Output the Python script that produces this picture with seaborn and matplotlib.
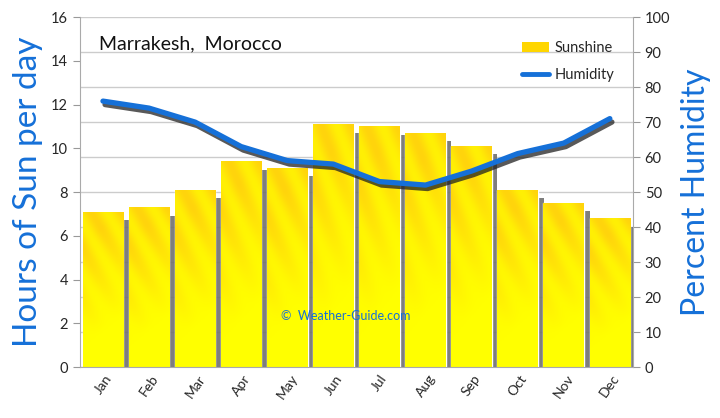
import matplotlib
matplotlib.use("Agg")
import matplotlib.pyplot as plt
import matplotlib.patheffects as pe
from matplotlib.patches import Patch
from matplotlib.lines import Line2D
import seaborn as sns
import pandas as pd
import numpy as np

# ----------------------------
# Data: Marrakesh sunshine & humidity
# ----------------------------
months = ["Jan", "Feb", "Mar", "Apr", "May", "Jun",
          "Jul", "Aug", "Sep", "Oct", "Nov", "Dec"]
sun_hours = [7.1, 7.3, 8.1, 9.4, 9.1, 11.1, 11.0, 10.7, 10.1, 8.1, 7.5, 6.8]
humidity = [76, 74, 70, 63, 59, 58, 53, 52, 56, 61, 64, 71]

df = pd.DataFrame({"Month": months, "Sunshine": sun_hours,
                   "Humidity": humidity, "Pos": np.arange(len(months))})

sns.set_style("white")
plt.rcParams["font.family"] = ["Lato", "DejaVu Sans"]

blue = "#1570d8"

fig = plt.figure(figsize=(7.2, 4.18), dpi=100)
ax = fig.add_axes([0.111, 0.122, 0.768, 0.837])

# right axis: humidity scale + gridlines (behind the bars)
ax2 = ax.twinx()
ax2.set_ylim(0, 100)
ax2.set_yticks(range(0, 101, 10))
ax2.yaxis.grid(True, color="#cccccc", linewidth=1)
ax2.tick_params(axis="y", length=5, color="#999999", labelsize=10.5, right=True)
ax2.set_ylabel("Percent Humidity", color=blue, fontsize=23, labelpad=8)
for s in ax2.spines.values():
    s.set_visible(False)
ax2.set_zorder(0)
ax2.patch.set_facecolor("white")

# bars on the primary axes
ax.set_zorder(1)
ax.patch.set_visible(False)
sns.barplot(data=df, x="Month", y="Sunshine", color="#ffff00", width=0.88,
            saturation=1, ax=ax, zorder=2)

# texture for each bar: diagonal orange streaks on yellow
h_img, w_img = 120, 40
yy, xx = np.mgrid[0:1:h_img * 1j, 0:1:w_img * 1j]
band = 0.5 + 0.5 * np.sin(2 * np.pi * (xx * 1.3 - yy * 3.0))
fade = np.clip(1.0 - yy * 1.5 + 0.3 * (1 - xx), 0, 1)
amt = np.clip(0.6 * fade * (0.35 + 0.65 * band), 0, 1)
yellow = np.array([1.0, 1.0, 0.0])
orange = np.array([1.0, 0.72, 0.08])
tex = yellow * (1 - amt[..., None]) + orange * amt[..., None]

for p in ax.patches:
    p.set_path_effects([pe.SimplePatchShadow(offset=(4, -6), shadow_rgbFace="#707070",
                                              alpha=0.9), pe.Normal()])
    x0, w, hgt = p.get_x(), p.get_width(), p.get_height()
    im = ax.imshow(tex, extent=[x0, x0 + w, 0, hgt], aspect="auto",
                   zorder=2.1, interpolation="bilinear")
    im.set_clip_path(p)

ax.set_xlim(-0.5, 11.5)
ax.set_ylim(0, 16)
ax.set_yticks(range(0, 17, 2))
ax.set_xticks(np.arange(-0.5, 12, 1), minor=True)
ax.tick_params(axis="x", which="major", length=0, labelsize=10, pad=4)
ax.tick_params(axis="x", which="minor", length=5, color="#999999")
ax.tick_params(axis="y", length=5, color="#999999", labelsize=10.5, direction="out",
               left=True)
for lbl in ax.get_xticklabels():
    lbl.set_rotation(55)
    lbl.set_ha("center")
    lbl.set_va("top")
ax.set_xlabel("")
ax.set_ylabel("Hours of Sun per day", color=blue, fontsize=24, labelpad=6)
for s in ["left", "bottom", "right"]:
    ax.spines[s].set_color("#aaaaaa")
ax.spines["top"].set_visible(False)

# humidity line on top of the bars
ax_line = ax.twinx()
ax_line.set_ylim(0, 100)
ax_line.set_zorder(2)
ax_line.patch.set_visible(False)
ax_line.axis("off")
sns.lineplot(data=df, x="Pos", y="Humidity", color=blue, linewidth=3.8, ax=ax_line,
             path_effects=[pe.SimpleLineShadow(offset=(1.5, -2.5), shadow_color="#222222",
                                               alpha=0.75), pe.Normal()])
ax_line.lines[0].set_solid_capstyle("round")
ax_line.lines[0].set_solid_joinstyle("round")
ax_line.set_xlim(-0.5, 11.5)

ax.text(0.035, 0.925, "Marrakesh,  Morocco", transform=ax.transAxes, fontsize=14,
        color="#111111", va="center")
ax.text(0.48, 0.145, "\u00a9  Weather-Guide.com", transform=ax.transAxes, fontsize=9,
        color=blue, ha="center", va="center", zorder=5)

handles = [Patch(facecolor="#ffd600", edgecolor="none", label="Sunshine"),
           Line2D([0], [0], color=blue, linewidth=3.5, label="Humidity")]
ax_line.legend(handles=handles, loc="upper right", bbox_to_anchor=(0.99, 0.97),
               frameon=False, fontsize=10.5, handlelength=1.8, labelspacing=0.9,
               handletextpad=0.4)

fig.savefig("out.png", dpi=100)
